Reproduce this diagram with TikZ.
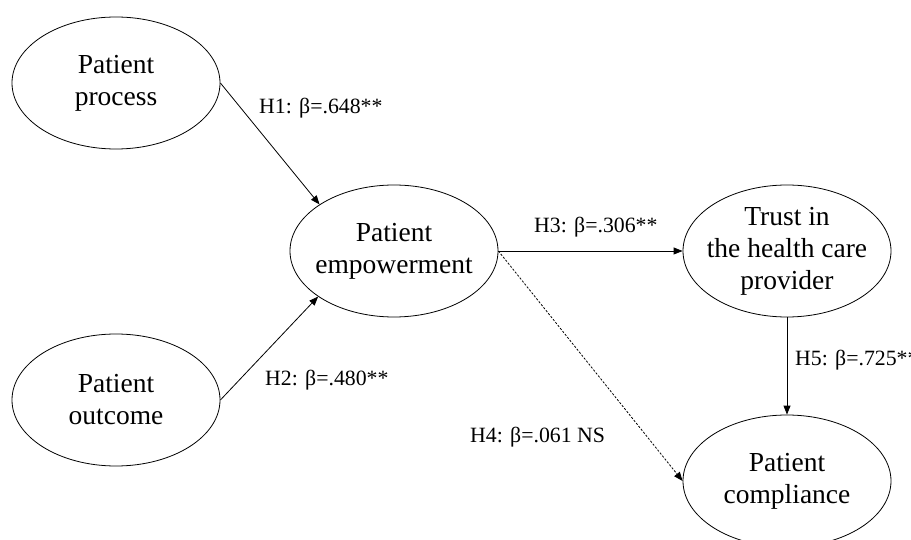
\documentclass[tikz,border=0pt]{standalone}
\usepackage{fontspec}
\setmainfont{Liberation Serif}
\usetikzlibrary{arrows.meta,shapes.geometric}
\begin{document}
\begin{tikzpicture}[x=1pt,y=-1pt,
  latent/.style={draw, ellipse, minimum width=208pt, minimum height=132pt, inner sep=0pt, line width=0.8pt},
  ltxt/.style={align=center, font=\fontsize{27.5}{32}\selectfont, inner sep=0pt},
  coef/.style={font=\fontsize{21.8}{24}\selectfont, inner sep=0pt, anchor=west},
  link/.style={-{Triangle[length=9pt,width=7pt]}, line width=0.8pt}]
\useasboundingbox (0,0) rectangle (911,540);

\node[latent] (proc) at (116,83) {};
\node[ltxt] (procT) at (proc) {Patient\\process};
\node[latent] (outc) at (116,400) {};
\node[ltxt] (outcT) at (outc) {Patient\\outcome};
\node[latent] (emp) at (394,251) {};
\node[ltxt] (empT) at (emp) {Patient\\empowerment};
\node[latent] (trust) at (787,251) {};
\node[ltxt] (trustT) at (trust) {Trust in\\the health care\\provider};
\node[latent] (comp) at (787,481) {};
\node[ltxt] (compT) at (comp) {Patient\\compliance};

\draw[link] (proc.east) -- (emp.148.6);
\draw[link] (outc.east) -- (emp.211.4);
\draw[link] (emp.east) -- (trust.west);
\draw[link, dash pattern=on 2.2pt off 1.6pt] (emp.east) -- (comp.west);
\draw[link] (trust.south) -- (comp.north);

\node[coef] (h1) at (259,108) {H1: β=.648**};
\node[coef] (h2) at (265,380) {H2: β=.480**};
\node[coef] (h3) at (534,227) {H3: β=.306**};
\node[coef] (h4) at (470,437) {H4: β=.061 NS};
\node[coef] (h5) at (795,360) {H5: β=.725**};
\end{tikzpicture}
\end{document}
